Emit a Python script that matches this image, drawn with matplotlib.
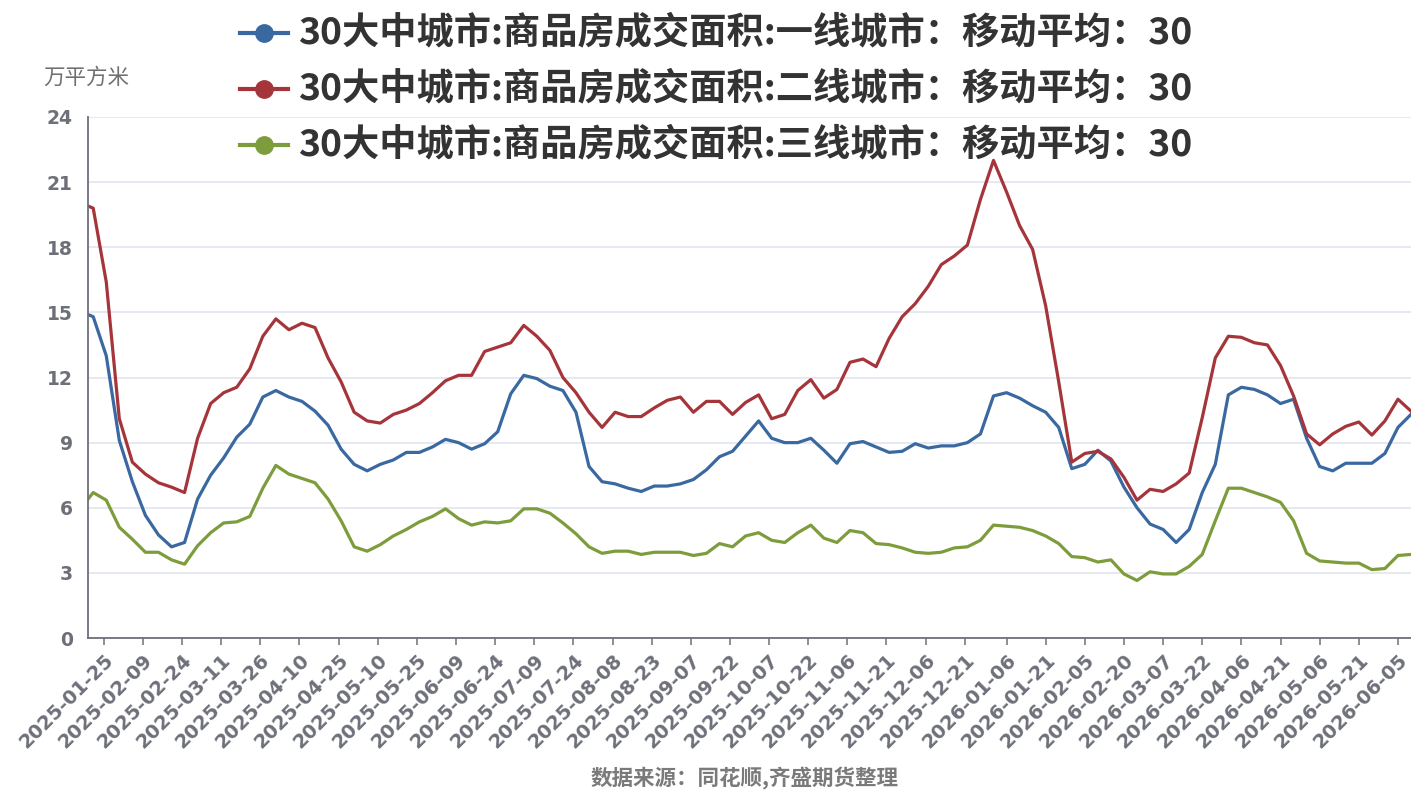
import matplotlib
matplotlib.use("Agg")
import matplotlib.pyplot as plt
from matplotlib.lines import Line2D
import pandas as pd

plt.rcParams['font.family'] = ['Noto Sans CJK SC', 'DejaVu Sans']

# ---- data: 30-day moving average of transaction area (万平方米) ----
start_date = '2025-01-19'
grid_start = '2025-01-21'   # regular 5-day grid after the first observation

series_names = [
    '30大中城市:商品房成交面积:一线城市：移动平均：30',
    '30大中城市:商品房成交面积:二线城市：移动平均：30',
    '30大中城市:商品房成交面积:三线城市：移动平均：30',
]

tier1 = [14.9,
         14.8, 13.0, 9.1, 7.2, 5.65, 4.75, 4.2, 4.4, 6.4, 7.5,
         8.3, 9.25, 9.85, 11.1, 11.4, 11.1, 10.9, 10.45, 9.8, 8.7,
         8.0, 7.7, 8.0, 8.2, 8.55, 8.55, 8.8, 9.15, 9.0, 8.7,
         8.95, 9.5, 11.25, 12.1, 11.95, 11.6, 11.4, 10.4, 7.9, 7.2,
         7.1, 6.9, 6.75, 7.0, 7.0, 7.1, 7.3, 7.75, 8.35, 8.6,
         9.3, 10.0, 9.2, 9.0, 9.0, 9.2, 8.65, 8.05, 8.95, 9.05,
         8.8, 8.55, 8.6, 8.95, 8.75, 8.85, 8.85, 9.0, 9.4, 11.15,
         11.3, 11.05, 10.7, 10.4, 9.7, 7.8, 8.0, 8.65, 8.15, 6.95,
         6.0, 5.25, 5.0, 4.4, 5.0, 6.7, 8.0, 11.2, 11.55, 11.45,
         11.2, 10.8, 11.0, 9.2, 7.9, 7.7, 8.05, 8.05, 8.05, 8.5,
         9.7, 10.3]

tier2 = [19.9,
         19.8, 16.4, 10.1, 8.1, 7.55, 7.15, 6.95, 6.7, 9.2, 10.8,
         11.3, 11.55, 12.4, 13.9, 14.7, 14.2, 14.5, 14.3, 12.9, 11.8,
         10.4, 10.0, 9.9, 10.3, 10.5, 10.8, 11.3, 11.85, 12.1, 12.1,
         13.2, 13.4, 13.6, 14.4, 13.9, 13.25, 12.0, 11.3, 10.4, 9.7,
         10.4, 10.2, 10.2, 10.6, 10.95, 11.1, 10.4, 10.9, 10.9, 10.3,
         10.85, 11.2, 10.1, 10.3, 11.4, 11.9, 11.05, 11.45, 12.7, 12.85,
         12.5, 13.8, 14.8, 15.4, 16.2, 17.2, 17.6, 18.1, 20.2, 22.0,
         20.55, 19.0, 17.9, 15.3, 11.8, 8.1, 8.5, 8.6, 8.25, 7.4,
         6.35, 6.85, 6.75, 7.1, 7.6, 10.15, 12.9, 13.9, 13.85, 13.6,
         13.5, 12.55, 11.15, 9.4, 8.9, 9.4, 9.75, 9.95, 9.35, 10.0,
         11.0, 10.45]

tier3 = [6.4,
         6.7, 6.35, 5.1, 4.55, 3.95, 3.95, 3.6, 3.4, 4.25, 4.85,
         5.3, 5.35, 5.6, 6.9, 7.95, 7.55, 7.35, 7.15, 6.4, 5.4,
         4.2, 4.0, 4.3, 4.7, 5.0, 5.35, 5.6, 5.95, 5.5, 5.2,
         5.35, 5.3, 5.4, 5.95, 5.95, 5.75, 5.3, 4.8, 4.2, 3.9,
         4.0, 4.0, 3.85, 3.95, 3.95, 3.95, 3.8, 3.9, 4.35, 4.2,
         4.7, 4.85, 4.5, 4.4, 4.85, 5.2, 4.6, 4.4, 4.95, 4.85,
         4.35, 4.3, 4.15, 3.95, 3.9, 3.95, 4.15, 4.2, 4.5, 5.2,
         5.15, 5.1, 4.95, 4.7, 4.35, 3.75, 3.7, 3.5, 3.6, 2.95,
         2.65, 3.05, 2.95, 2.95, 3.3, 3.85, 5.4, 6.9, 6.9, 6.7,
         6.5, 6.25, 5.4, 3.9, 3.55, 3.5, 3.45, 3.45, 3.15, 3.2,
         3.8, 3.85]

tick_labels = [
    '2025-01-25', '2025-02-09', '2025-02-24', '2025-03-11', '2025-03-26',
    '2025-04-10', '2025-04-25', '2025-05-10', '2025-05-25', '2025-06-09',
    '2025-06-24', '2025-07-09', '2025-07-24', '2025-08-08', '2025-08-23',
    '2025-09-07', '2025-09-22', '2025-10-07', '2025-10-22', '2025-11-06',
    '2025-11-21', '2025-12-06', '2025-12-21', '2026-01-06', '2026-01-21',
    '2026-02-05', '2026-02-20', '2026-03-07', '2026-03-22', '2026-04-06',
    '2026-04-21', '2026-05-06', '2026-05-21', '2026-06-05',
]
y_ticks = [0, 3, 6, 9, 12, 15, 18, 21, 24]

colors = ['#3a68a0', '#a5353a', '#7d9c3c']

# ---- figure ----
W, H = 1411, 790
fig = plt.figure(figsize=(W / 100, H / 100), dpi=100)
ax = fig.add_axes([88 / W, (H - 638) / H, (W - 88) / W, (638 - 117) / H])

dates = pd.DatetimeIndex([pd.Timestamp(start_date)]).append(
    pd.date_range(grid_start, periods=len(tier1) - 1, freq='5D'))

for vals, c in zip([tier1, tier2, tier3], colors):
    ax.plot(dates, vals, color=c, lw=2.3, solid_joinstyle='round', zorder=3)

axis_gray = '#6e7079'
ax.set_ylim(0, 24)
ax.set_yticks(y_ticks)
ax.set_xlim(pd.Timestamp('2025-01-19'), pd.Timestamp('2026-06-10'))
ax.set_xticks(pd.to_datetime(tick_labels))
ax.set_xticklabels(tick_labels, rotation=45, ha='right', rotation_mode='anchor')

for lab in ax.get_xticklabels():
    lab.set_fontfamily('DejaVu Sans')
    lab.set_fontweight('bold')
    lab.set_fontsize(14)
    lab.set_color(axis_gray)
for lab in ax.get_yticklabels():
    lab.set_fontfamily('DejaVu Sans')
    lab.set_fontweight('bold')
    lab.set_fontsize(13.5)
    lab.set_color(axis_gray)

ax.tick_params(axis='y', length=0, pad=11)
ax.tick_params(axis='x', length=5, width=1.1, color=axis_gray, pad=4)

ax.yaxis.grid(True, color='#e2e5ef', lw=1.2)
ax.set_axisbelow(True)
for s in ['top', 'right']:
    ax.spines[s].set_visible(False)
for s in ['left', 'bottom']:
    ax.spines[s].set_color(axis_gray)
    ax.spines[s].set_linewidth(1.3)
    ax.spines[s].set_zorder(4)

# ---- legend rows ----
row_y = [33, 89, 145]
for name, c, y in zip(series_names, colors, row_y):
    yf = 1 - y / H
    fig.add_artist(Line2D([240 / W, 288 / W], [yf, yf], transform=fig.transFigure,
                          color=c, lw=3, zorder=5))
    fig.add_artist(Line2D([264 / W], [yf], transform=fig.transFigure,
                          marker='o', ms=12.5, color=c, zorder=6))
    fig.text(298 / W, yf, name, fontsize=26.8, fontweight='bold', color='#333333',
             va='center', ha='left', zorder=7)

# ---- unit and source ----
fig.text(43 / W, 1 - 78 / H, '万平方米', fontsize=15.5, color='#707070',
         va='center', ha='left')
fig.text(745 / W, 1 - 778 / H, '数据来源：同花顺,齐盛期货整理', fontsize=15.5,
         fontweight='bold', color='#7a7a7a', va='center', ha='center')

fig.savefig('out.png', dpi=100)
